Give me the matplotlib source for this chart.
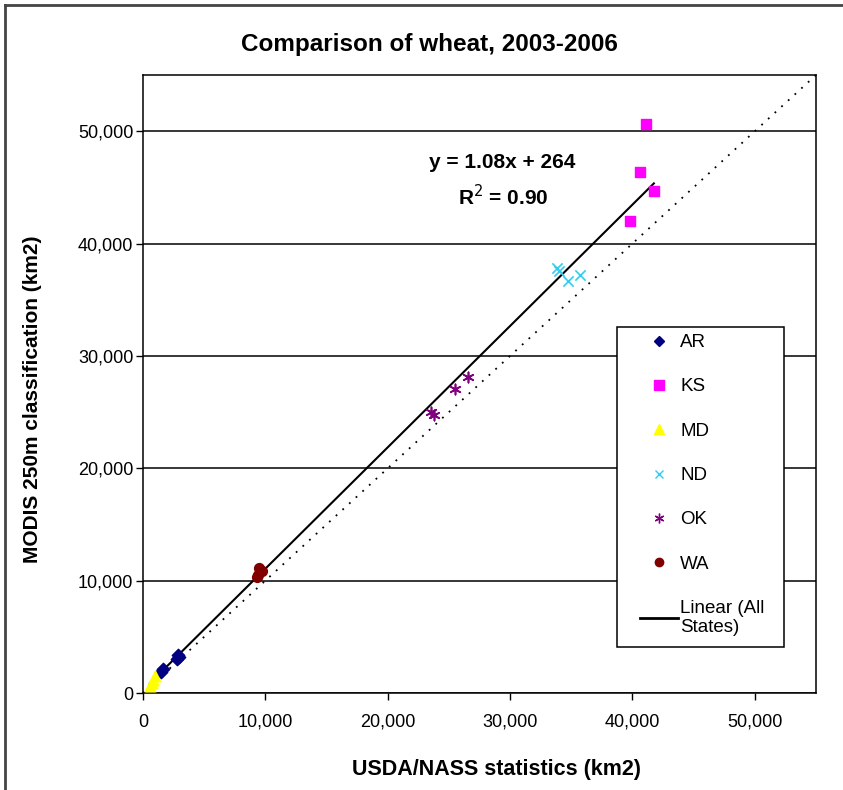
import matplotlib
matplotlib.use("Agg")
import matplotlib.pyplot as plt
from matplotlib.lines import Line2D
from matplotlib.patches import Rectangle
from matplotlib.ticker import FuncFormatter, MultipleLocator

plt.rcParams['font.family'] = ['Liberation Sans', 'DejaVu Sans']

# State-level wheat area, USDA/NASS (x) vs MODIS 250m classification (y), km2
ar_x = [1500, 1600, 2800, 2900, 2950]
ar_y = [1900, 2100, 3000, 3400, 3200]
ks_x = [41100, 40600, 41750, 39800]
ks_y = [50600, 46400, 44700, 42050]
md_x = [550, 700, 850, 1000]
md_y = [600, 900, 1200, 1500]
nd_x = [34000, 34700, 35700, 33800]
nd_y = [37550, 36700, 37200, 37800]
ok_x = [26600, 25500, 23500, 23800]
ok_y = [28100, 27050, 25050, 24750]
wa_x = [9500, 9700, 9400, 9300]
wa_y = [11100, 10900, 10500, 10300]

# fitted trend for all states, as printed on the chart
slope = 1.08
intercept = 264
r2 = 0.90

axis_max = 55000

W, H = 843, 790
fig = plt.figure(figsize=(W / 100, H / 100), dpi=100)
ax = fig.add_axes([143 / W, 1 - 693 / H, (816 - 143) / W, (693 - 75) / H])

ax.set_xlim(0, axis_max)
ax.set_ylim(0, axis_max)
ax.yaxis.set_major_locator(MultipleLocator(10000))
ax.xaxis.set_major_locator(MultipleLocator(10000))
fmt = FuncFormatter(lambda v, p: f"{int(v):,}")
ax.xaxis.set_major_formatter(fmt)
ax.yaxis.set_major_formatter(fmt)
ax.grid(axis='y', color='black', linewidth=1.1, zorder=0)
ax.set_axisbelow(True)
ax.tick_params(direction='out', length=5, width=1, labelsize=13, colors='black')
ax.tick_params(axis='x', pad=10)
ax.tick_params(axis='y', pad=2)
for s in ax.spines.values():
    s.set_linewidth(1.1)

# 1:1 reference line
ax.plot([0, axis_max], [0, axis_max], color='black', linestyle=(0, (1, 4)),
        linewidth=1.3, zorder=2)

all_x = ar_x + ks_x + md_x + nd_x + ok_x + wa_x
x0, x1 = min(all_x), max(all_x)
ax.plot([x0, x1], [slope * x0 + intercept, slope * x1 + intercept],
        color='black', linewidth=1.5, zorder=3)

ax.scatter(ar_x, ar_y, marker='D', s=40, color='#000080', zorder=4)
ax.scatter(ks_x, ks_y, marker='s', s=55, color='#FF00FF', zorder=4)
ax.scatter(md_x, md_y, marker='^', s=60, color='#FFFF00', zorder=4)
ax.scatter(nd_x, nd_y, marker='x', s=55, color='#33CCEE', linewidths=1.2, zorder=4)
ax.scatter(ok_x, ok_y, marker=(6, 2, 0), s=55, color='#800080', linewidths=1.2, zorder=4)
ax.scatter(wa_x, wa_y, marker='o', s=50, color='#800000', zorder=4)

ax.text(502 / W, 1 - 163 / H, f"y = {slope:.2f}x + {intercept}", transform=fig.transFigure,
        fontsize=15, fontweight='bold', ha='center', va='center')
ax.text(503 / W, 1 - 197 / H, f"R$^2$ = {r2:.2f}", transform=fig.transFigure,
        fontsize=15, fontweight='bold', ha='center', va='center')

# legend box
ax.add_patch(Rectangle((617 / W, 1 - 647 / H), (784 - 617) / W, (647 - 327) / H,
                       transform=fig.transFigure, facecolor='white', edgecolor='black',
                       linewidth=1.1, zorder=5, clip_on=False))

handles = [
    Line2D([], [], linestyle='none', marker='D', markersize=5, color='#000080'),
    Line2D([], [], linestyle='none', marker='s', markersize=7, color='#FF00FF'),
    Line2D([], [], linestyle='none', marker='^', markersize=7, color='#FFFF00'),
    Line2D([], [], linestyle='none', marker='x', markersize=6, color='#33CCEE'),
    Line2D([], [], linestyle='none', marker=(6, 2, 0), markersize=7, color='#800080'),
    Line2D([], [], linestyle='none', marker='o', markersize=6, color='#800000'),
    Line2D([], [], color='black', linewidth=2),
]
labels = ['AR', 'KS', 'MD', 'ND', 'OK', 'WA', 'Linear (All\nStates)']
leg = ax.legend(handles, labels, loc='upper left',
                bbox_to_anchor=(640 / W, 1 - 334 / H), bbox_transform=fig.transFigure,
                fontsize=13.5, frameon=False, labelspacing=1.45, handlelength=2.0,
                handletextpad=0.15, borderpad=0, borderaxespad=0)
leg.set_zorder(6)

fig.text(496 / W, 1 - 770 / H, "USDA/NASS statistics (km2)",
         fontsize=15.5, fontweight='bold', ha='center', va='center')
fig.text(33 / W, 1 - 399 / H, "MODIS 250m classification (km2)", rotation=90,
         fontsize=15, fontweight='bold', ha='center', va='center')
fig.text(429 / W, 1 - 45 / H, "Comparison of wheat, 2003-2006",
         fontsize=17.5, fontweight='bold', ha='center', va='center')

# chart area border (top and left edges)
fig.add_artist(Line2D([5 / W, 5 / W], [0, 1 - 5 / H], color='#444444', linewidth=2))
fig.add_artist(Line2D([5 / W, 1], [1 - 5 / H, 1 - 5 / H], color='#444444', linewidth=2))

fig.savefig("out.png", dpi=100)
